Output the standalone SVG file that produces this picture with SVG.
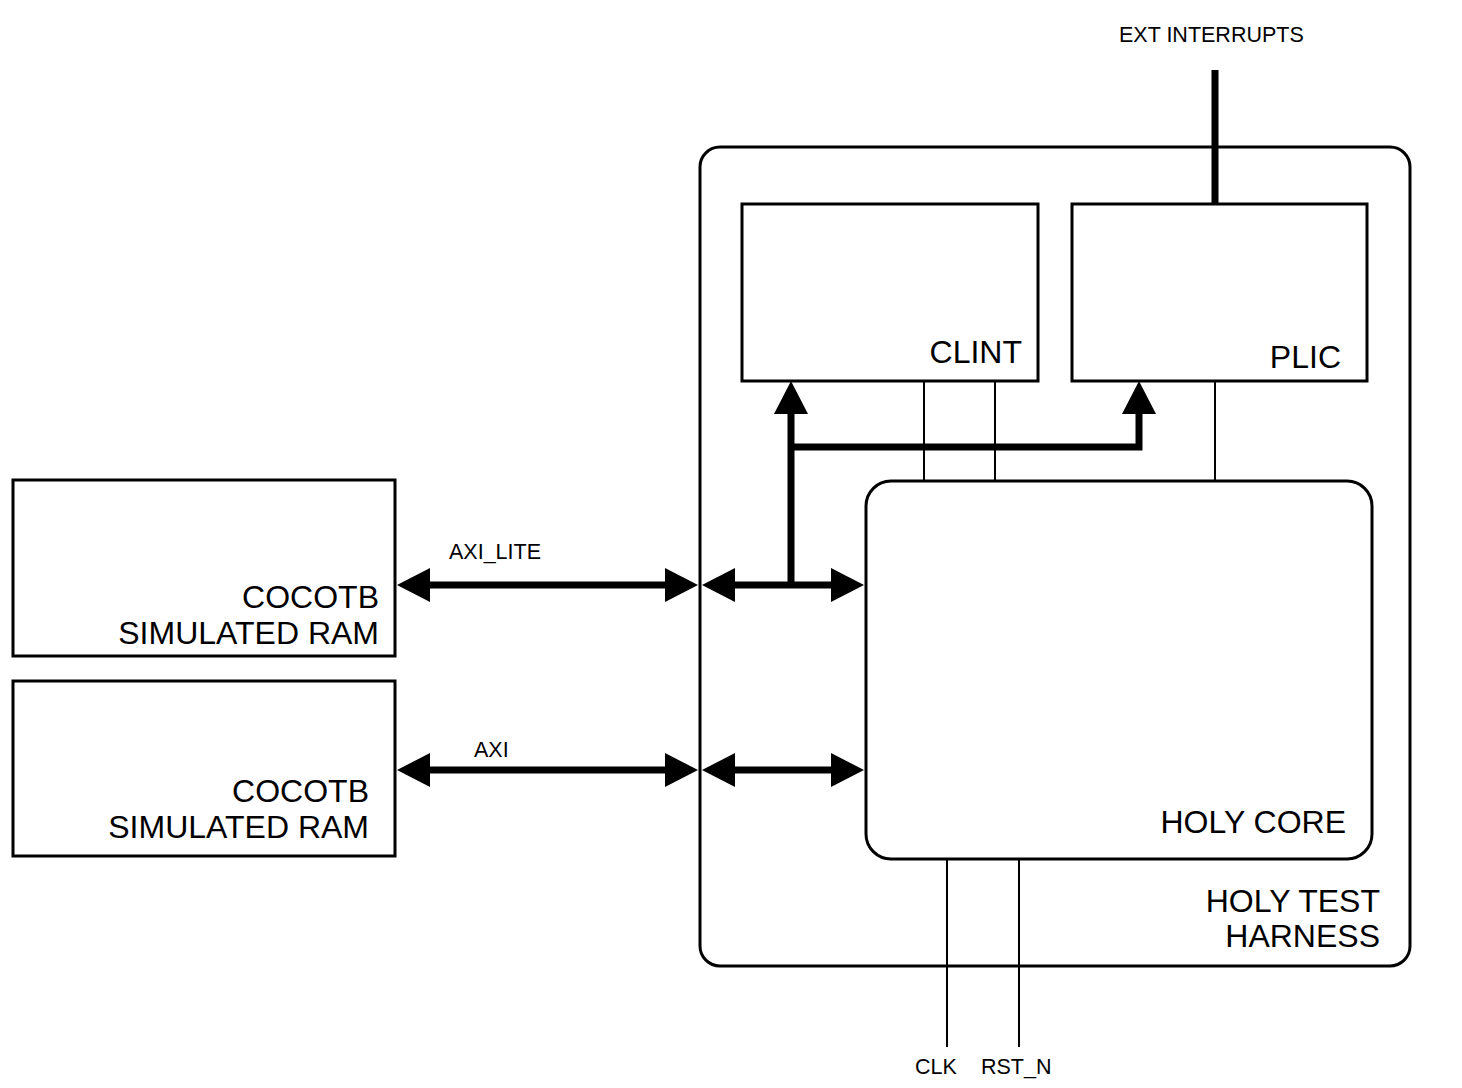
<svg xmlns="http://www.w3.org/2000/svg" width="1462" height="1088" viewBox="0 0 1462 1088">
<style>
.box{fill:#fff;stroke:#000;stroke-width:3}
.big{font-family:"Liberation Sans",Arial,sans-serif;font-size:32px;fill:#000;text-anchor:end}
.small{font-family:"Liberation Sans",Arial,sans-serif;font-size:21.5px;fill:#000}
.bus{fill:none;stroke:#000;stroke-width:7}
.wire{fill:none;stroke:#000;stroke-width:2}
</style>
<defs>
<marker id="ah" markerUnits="userSpaceOnUse" markerWidth="34" markerHeight="36" viewBox="0 -18 34 36" refX="0" refY="0" orient="auto-start-reverse">
<path d="M0,-17 L33,0 L0,17 z" fill="#000"/>
</marker>
</defs>
<rect width="1462" height="1088" fill="#fff"/>
<g id="harness">
<rect class="box" x="700" y="147" width="710" height="819" rx="20"/>
<text class="big" x="1380" y="912">HOLY TEST</text>
<text class="big" x="1380" y="947">HARNESS</text>
</g>
<g id="clint">
<rect class="box" x="742" y="204" width="296" height="177"/>
<text class="big" x="1022" y="363">CLINT</text>
</g>
<g id="plic">
<rect class="box" x="1072" y="204" width="295" height="177"/>
<text class="big" x="1341" y="368">PLIC</text>
</g>
<g id="holycore">
<rect class="box" x="866" y="481" width="506" height="378" rx="25"/>
<text class="big" x="1346" y="833">HOLY CORE</text>
</g>
<g id="ram1">
<rect class="box" x="13" y="480" width="382" height="176"/>
<text class="big" x="379" y="608">COCOTB</text>
<text class="big" x="379" y="644">SIMULATED RAM</text>
</g>
<g id="ram2">
<rect class="box" x="13" y="681" width="382" height="175"/>
<text class="big" x="369" y="802">COCOTB</text>
<text class="big" x="369" y="838">SIMULATED RAM</text>
</g>
<g id="connectors">
<path class="bus" d="M430,585 H665" marker-start="url(#ah)" marker-end="url(#ah)"/>
<path class="bus" d="M735,585 H831" marker-start="url(#ah)" marker-end="url(#ah)"/>
<path class="bus" d="M430,770 H665" marker-start="url(#ah)" marker-end="url(#ah)"/>
<path class="bus" d="M735,770 H831" marker-start="url(#ah)" marker-end="url(#ah)"/>
<path class="bus" d="M791,588 V414" marker-end="url(#ah)"/>
<path class="bus" d="M791,447 H1139 V414" marker-end="url(#ah)"/>
<path class="bus" d="M1215,70 V204"/>
<path class="wire" d="M924,381 V481 M995,381 V481 M1215,381 V481"/>
<path class="wire" d="M947,859 V1047 M1019,859 V1047"/>
<text class="small" x="449" y="559">AXI_LITE</text>
<text class="small" x="474" y="757">AXI</text>
<text class="small" x="1119" y="42">EXT INTERRUPTS</text>
<text class="small" x="915" y="1074">CLK</text>
<text class="small" x="981" y="1074">RST_N</text>
</g>
</svg>
